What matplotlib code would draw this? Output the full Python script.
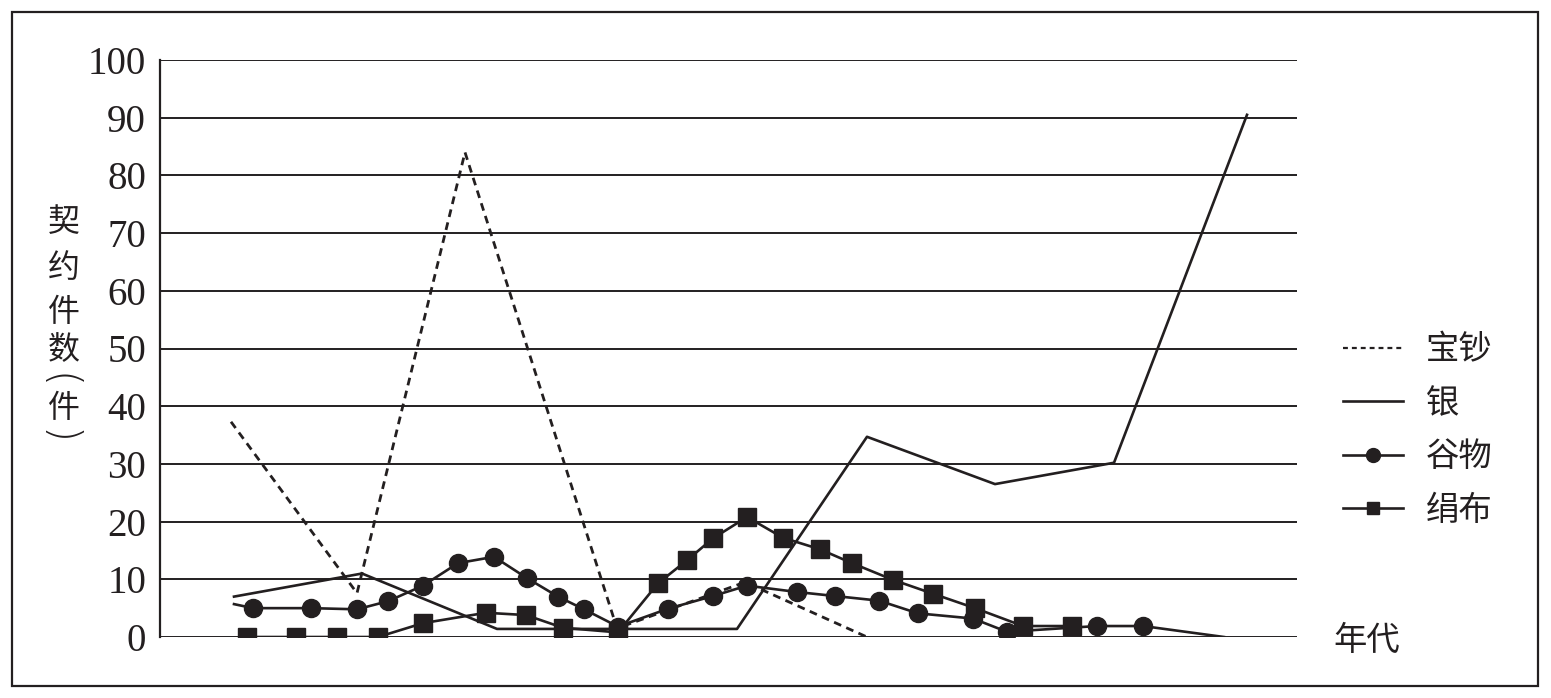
import matplotlib
matplotlib.use("Agg")
import matplotlib.pyplot as plt
from matplotlib.patches import Rectangle
from matplotlib.lines import Line2D

plt.rcParams['font.family'] = ['Noto Sans CJK SC', 'DejaVu Sans']

INK = '#231f20'

# x positions along the (unlabelled) time axis
# 宝钞 (paper money)
baochao_x = [71, 197, 305, 457, 585, 707]
baochao_y = [37.3, 7.6, 84, 1.5, 9.5, 0]

# 银 (silver)
yin_x = [74, 202, 337, 577, 707, 835, 954, 1087]
yin_y = [7, 11, 1.4, 1.4, 34.7, 26.5, 30.2, 90.5]

# 谷物 (grain) - first and last points carry no marker
gu_x = [74, 93, 151, 197, 228, 263, 298, 334, 367, 398, 424, 458, 508, 553,
        587, 637, 675, 719, 758, 813, 847, 937, 983, 1064]
gu_y = [5.7, 5, 5, 4.8, 6.2, 8.9, 12.8, 13.9, 10.2, 7, 4.8, 1.8, 4.9, 7.1,
        8.9, 7.8, 7.1, 6.3, 4.1, 3.2, 0.9, 1.9, 1.9, 0]

# 绢布 (silk cloth)
juan_x = [87, 136, 177, 218, 263, 326, 366, 403, 458, 498, 527, 553, 587,
          623, 660, 692, 733, 773, 815, 863, 912]
juan_y = [0, 0, 0, 0, 2.4, 4.2, 3.8, 1.6, 0.8, 9.3, 13.3, 17.1, 20.8,
          17.2, 15.2, 12.8, 9.9, 7.5, 5.0, 1.9, 1.9]

yticks = list(range(0, 101, 10))
series_names = ['宝钞', '银', '谷物', '绢布']

fig = plt.figure(figsize=(15.51, 6.98), dpi=100)
ax = fig.add_axes([160 / 1551, 1 - 637 / 698, 1137 / 1551, 577 / 698])

# outer frame
fig.patches.append(Rectangle((12 / 1551, 1 - 686 / 698), 1526 / 1551, 674 / 698,
                             transform=fig.transFigure, fill=False,
                             edgecolor=INK, linewidth=1.6))

for t in yticks:
    ax.axhline(t, color=INK, linewidth=1.4, zorder=1)

dash = (0, (2.8, 2.0))
ax.plot(baochao_x, baochao_y, color=INK, lw=2.0, linestyle=dash, zorder=3)
ax.plot(yin_x, yin_y, color=INK, lw=1.9, zorder=3)
ax.plot(gu_x, gu_y, color=INK, lw=1.9, marker='o', markersize=13,
        markevery=list(range(1, len(gu_x) - 1)), zorder=4)
ax.plot(juan_x, juan_y, color=INK, lw=1.9, marker='s', markersize=13, zorder=5)

ax.set_xlim(0, 1137)
ax.set_ylim(0, 100)
ax.set_yticks(yticks)
ax.set_yticklabels([str(t) for t in yticks], family='Liberation Serif',
                   fontsize=28, color=INK)
ax.tick_params(axis='y', length=0, pad=10)
ax.set_xticks([])
for s in ['top', 'right', 'bottom']:
    ax.spines[s].set_visible(False)
ax.spines['left'].set_color(INK)
ax.spines['left'].set_linewidth(1.6)

# vertical y label, one character at a time; brackets turned for vertical text
ylab_chars = ['契', '约', '件', '数', '(', '件', ')']
ylab_pos = [222, 268, 312, 350, 381, 408, 437]
for ch, py in zip(ylab_chars, ylab_pos):
    if ch in '()':
        fig.text(58 / 1551, 1 - py / 698, ch, fontsize=30, color=INK,
                 ha='center', va='center', rotation=-90,
                 rotation_mode='anchor', family='DejaVu Sans',
                 fontweight='light')
    else:
        fig.text(64 / 1551, 1 - py / 698, ch, fontsize=23, color=INK,
                 ha='center', va='center')

handles = [
    Line2D([], [], color=INK, lw=1.6, linestyle=(0, (2.2, 1.8))),
    Line2D([], [], color=INK, lw=1.9),
    Line2D([], [], color=INK, lw=1.9, marker='o', markersize=10),
    Line2D([], [], color=INK, lw=1.9, marker='s', markersize=9),
]
fig.legend(handles, series_names, loc='upper left',
           bbox_to_anchor=(1326 / 1551, 1 - 316 / 698), frameon=False,
           fontsize=24, handlelength=1.8, handletextpad=0.7,
           labelspacing=0.55, borderpad=0, labelcolor=INK)

fig.text(1333 / 1551, 1 - 640 / 698, '年代', fontsize=24, color=INK,
         ha='left', va='center')

fig.savefig('out.png', dpi=100)
